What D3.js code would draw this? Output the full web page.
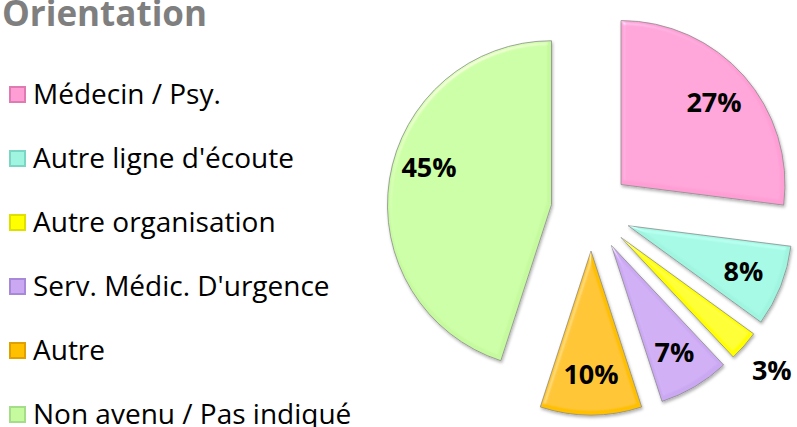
<!DOCTYPE html>
<html>
<head>
    <meta charset="utf-8" />
    <title>Orientation</title>
    <script src="https://d3js.org/d3.v7.min.js"></script>
    <style>
        body { margin: 0; background: #fff; }
        text { font-family: "Open Sans", "DejaVu Sans", sans-serif; }
    </style>
</head>
<body>
    <svg width="797" height="427"></svg>
    <script>
        // data
        const categories = ["Médecin / Psy.", "Autre ligne d'écoute", "Autre organisation",
            "Serv. Médic. D'urgence", "Autre", "Non avenu / Pas indiqué"];
        const values = [27, 8, 3, 7, 10, 45];
        const labels = ["27%", "8%", "3%", "7%", "10%", "45%"];
        const colors = ["#ff9ed4", "#9ff5e0", "#ffff00", "#cba8f2", "#ffc000", "#c6fa9f"];
        const legendColors = ["#e07ab2", "#7cd6c4", "#e0e000", "#a888d8", "#e0a000", "#a4de88"];

        const svg = d3.select("svg");
        const width = +svg.attr("width");
        const height = +svg.attr("height");

        const cx = 591, cy = 211, radius = 164, explode = 40;

        // bevel + shadow filter to mimic the office 3D look
        const defs = svg.append("defs");
        const f = defs.append("filter").attr("id", "bevel")
            .attr("x", "-10%").attr("y", "-10%").attr("width", "120%").attr("height", "120%");
        f.append("feGaussianBlur").attr("in", "SourceAlpha").attr("stdDeviation", 2).attr("result", "blur");
        const spec = f.append("feSpecularLighting").attr("in", "blur")
            .attr("surfaceScale", 3).attr("specularConstant", 0.35).attr("specularExponent", 22)
            .attr("lighting-color", "#ffffff").attr("result", "spec");
        spec.append("feDistantLight").attr("azimuth", 235).attr("elevation", 40);
        f.append("feComposite").attr("in", "spec").attr("in2", "SourceAlpha").attr("operator", "in").attr("result", "specIn");
        f.append("feComposite").attr("in", "SourceGraphic").attr("in2", "specIn").attr("operator", "arithmetic")
            .attr("k1", 0).attr("k2", 1).attr("k3", 1).attr("k4", 0).attr("result", "lit");
        f.append("feOffset").attr("in", "SourceAlpha").attr("dx", 1).attr("dy", 2).attr("result", "off");
        f.append("feGaussianBlur").attr("in", "off").attr("stdDeviation", 1.5).attr("result", "offBlur");
        f.append("feFlood").attr("flood-color", "#000").attr("flood-opacity", 0.3).attr("result", "fc");
        f.append("feComposite").attr("in", "fc").attr("in2", "offBlur").attr("operator", "in").attr("result", "shadow");
        const merge = f.append("feMerge");
        merge.append("feMergeNode").attr("in", "shadow");
        merge.append("feMergeNode").attr("in", "lit");

        // title (top is clipped in the original too)
        svg.append("text")
            .attr("x", 2)
            .attr("y", 26)
            .attr("fill", "#7f7f7f")
            .attr("font-weight", "bold")
            .attr("font-size", 35)
            .text("Orientation");

        // legend
        const legend = svg.append("g").attr("class", "legend");
        const legendItem = legend.selectAll(".legend-item")
            .data(categories)
            .enter()
            .append("g")
            .attr("class", "legend-item")
            .attr("transform", (d, i) => "translate(0," + (94 + i * 64) + ")");

        legendItem.append("rect")
            .attr("x", 10)
            .attr("y", -7)
            .attr("width", 15)
            .attr("height", 15)
            .attr("fill", (d, i) => colors[i])
            .attr("stroke", (d, i) => legendColors[i])
            .attr("stroke-width", 2);

        legendItem.append("text")
            .attr("x", 33)
            .attr("y", 0)
            .attr("dy", "0.35em")
            .attr("font-size", 28)
            .attr("fill", "#000")
            .text(d => d);

        // pie
        const pie = d3.pie().sort(null).value(d => d)
            .startAngle(0).endAngle(2 * Math.PI);
        const arcs = pie(values);
        const arc = d3.arc().innerRadius(0).outerRadius(radius);

        const off = (d, r) => {
            const a = (d.startAngle + d.endAngle) / 2;
            return [Math.sin(a) * r, -Math.cos(a) * r];
        };

        const g = svg.append("g").attr("transform", "translate(" + cx + "," + cy + ")");

        g.selectAll("path")
            .data(arcs)
            .enter()
            .append("path")
            .attr("d", arc)
            .attr("transform", d => "translate(" + off(d, explode) + ")")
            .attr("fill", (d, i) => colors[i])
            .attr("stroke", "#8c8c8c")
            .attr("stroke-width", 0.8)
            .attr("filter", "url(#bevel)");

        g.selectAll(".lbl")
            .data(arcs)
            .enter()
            .append("text")
            .attr("class", "lbl")
            .attr("transform", d => {
                const p = off(d, explode + (d.value < 5 ? 201 : 124));
                // the big slice label sits a bit higher in the original
                if (d.value > 40) p[1] -= 18;
                return "translate(" + p + ")";
            })
            .attr("text-anchor", "middle")
            .attr("dy", "0.35em")
            .attr("font-size", 27)
            .attr("font-weight", "bold")
            .attr("fill", "#000")
            .text((d, i) => labels[i]);
    </script>
</body>
</html>
